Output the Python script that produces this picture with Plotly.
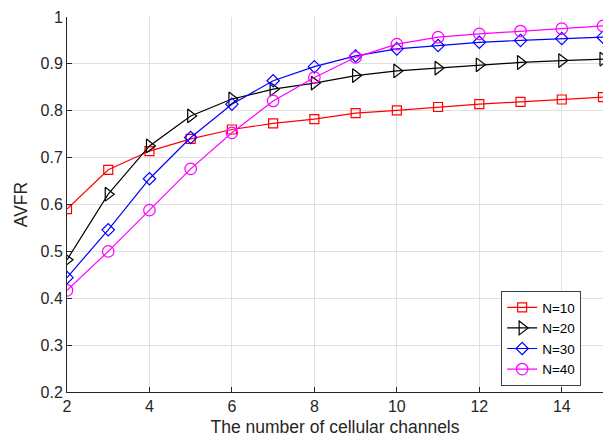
import plotly.graph_objects as go

channels = list(range(2, 16))
avfr_n10 = [0.590, 0.674, 0.714, 0.740, 0.760, 0.773, 0.782, 0.795, 0.801, 0.808, 0.814, 0.819, 0.824, 0.829]
avfr_n20 = [0.482, 0.622, 0.725, 0.789, 0.825, 0.846, 0.859, 0.875, 0.885, 0.891, 0.898, 0.903, 0.907, 0.910]
avfr_n30 = [0.444, 0.546, 0.655, 0.743, 0.814, 0.864, 0.894, 0.917, 0.932, 0.939, 0.946, 0.950, 0.954, 0.957]
avfr_n40 = [0.417, 0.500, 0.588, 0.676, 0.753, 0.821, 0.871, 0.914, 0.942, 0.957, 0.964, 0.970, 0.975, 0.981]

series = [
    ("N=10", avfr_n10, "#ff0000", "square-open", 9),
    ("N=20", avfr_n20, "#000000", "triangle-right-open", 12),
    ("N=30", avfr_n30, "#0000ff", "diamond-open", 9.5),
    ("N=40", avfr_n40, "#ff00ff", "circle-open", 11.5),
]

fig = go.Figure()
for name, vals, color, symbol, size in series:
    fig.add_trace(go.Scatter(
        x=channels, y=vals, name=name, mode="lines+markers",
        line=dict(color=color, width=1.2),
        marker=dict(symbol=symbol, size=size, color=color, line=dict(width=1.2, color=color)),
    ))

family = "Liberation Sans, Arial, sans-serif"
tick_font = dict(family=family, size=16, color="#262626")
title_font = dict(family=family, size=17.5, color="#262626")

fig.update_layout(
    width=613, height=444,
    margin=dict(l=67, r=10, t=17, b=52),
    paper_bgcolor="white", plot_bgcolor="white",
    font=tick_font,
    xaxis=dict(
        range=[2, 15], tickvals=[2, 4, 6, 8, 10, 12, 14],
        tickfont=tick_font,
        showgrid=True, gridcolor="#e0e0e0", gridwidth=1,
        showline=True, linecolor="#262626", linewidth=1,
        ticks="inside", ticklen=5, tickcolor="#262626",
        zeroline=False,
        title=dict(text="The number of cellular channels", font=title_font, standoff=6),
    ),
    yaxis=dict(
        range=[0.2, 1.0], tickvals=[0.2, 0.3, 0.4, 0.5, 0.6, 0.7, 0.8, 0.9, 1.0],
        ticktext=["0.2", "0.3", "0.4", "0.5", "0.6", "0.7", "0.8", "0.9", "1"],
        tickfont=tick_font,
        showgrid=True, gridcolor="#e0e0e0", gridwidth=1,
        showline=True, linecolor="#262626", linewidth=1,
        ticks="inside", ticklen=5, tickcolor="#262626",
        zeroline=False,
        title=dict(text="AVFR", font=title_font, standoff=8),
    ),
    legend=dict(
        x=0.81, y=0.269, xanchor="left", yanchor="top",
        bgcolor="white", bordercolor="#404040", borderwidth=1,
        font=dict(family=family, size=13.5, color="#000000"),
        tracegroupgap=0,
    ),
)

fig.write_html("out.html")
